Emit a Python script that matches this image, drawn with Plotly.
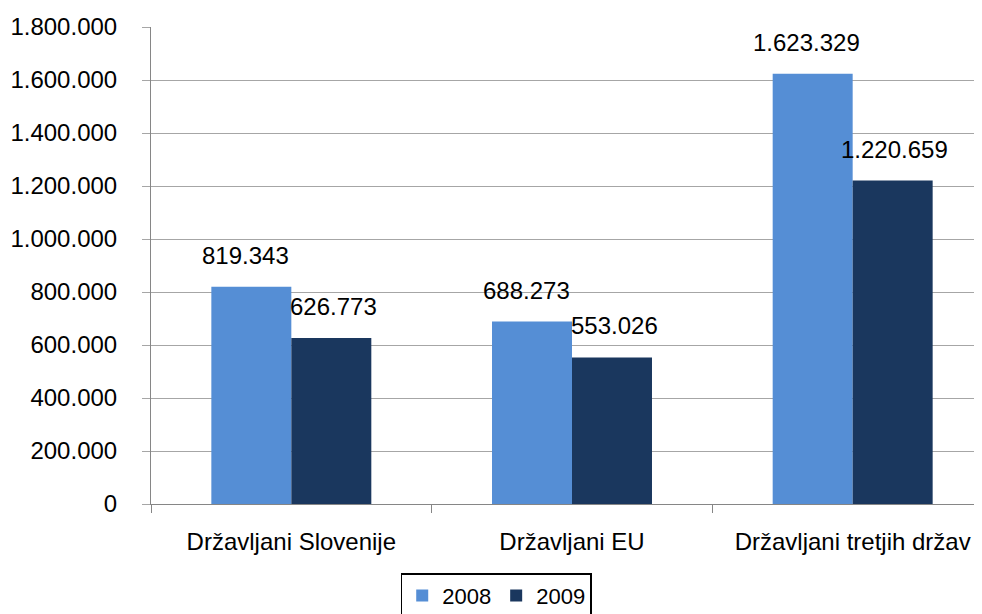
import plotly.graph_objects as go

categories = ["Državljani Slovenije", "Državljani EU", "Državljani tretjih držav"]
series_names = ["2008", "2009"]
values_2008 = [819343, 688273, 1623329]
values_2009 = [626773, 553026, 1220659]
tick_vals = [0, 200000, 400000, 600000, 800000, 1000000, 1200000, 1400000, 1600000, 1800000]

colors = ["#558ED5", "#1A375E"]
FONT = "Liberation Sans"

def fmt(v):
    return f"{v:,}".replace(",", ".")

fig = go.Figure()
for name, vals, col in zip(series_names, [values_2008, values_2009], colors):
    fig.add_trace(go.Bar(x=categories, y=vals, name=name, marker=dict(color=col, line=dict(width=0))))

annotations = []
for vals, xs in [(values_2008, -46), (values_2009, 42)]:
    for c, v in zip(categories, vals):
        annotations.append(dict(x=c, y=v, xref="x", yref="y", text=fmt(v), showarrow=False,
                                xshift=xs, yshift=16, yanchor="bottom",
                                font=dict(family=FONT, size=24, color="#000000")))

fig.update_layout(
    width=985, height=606,
    margin=dict(l=143, r=0, t=19, b=110, autoexpand=False),
    paper_bgcolor="white", plot_bgcolor="white",
    barmode="group", bargap=0.43, bargroupgap=0,
    separators=",.",
    font=dict(family=FONT, size=24, color="#000000"),
    annotations=annotations,
    showlegend=True,
    legend=dict(orientation="h", x=0.41, xanchor="center", y=-0.145, yanchor="top",
                bordercolor="#000000", borderwidth=1.5, bgcolor="white",
                font=dict(family=FONT, size=22, color="#000000"),
                itemwidth=30, tracegroupgap=0),
)
fig.update_yaxes(range=[0, 1800000], tickvals=tick_vals, tickformat=",d",
                 showgrid=True, gridcolor="#A6A6A6", gridwidth=1,
                 showline=True, linecolor="#868686", linewidth=1,
                 ticks="outside", ticklen=8, tickcolor="#A6A6A6",
                 ticklabelstandoff=20, zeroline=False, automargin=False)
fig.update_xaxes(showline=True, linecolor="#868686", linewidth=1,
                 ticks="outside", ticklen=8, tickcolor="#868686", tickson="boundaries",
                 ticklabelstandoff=16, showgrid=False, automargin=False)

fig.write_html("out.html")
